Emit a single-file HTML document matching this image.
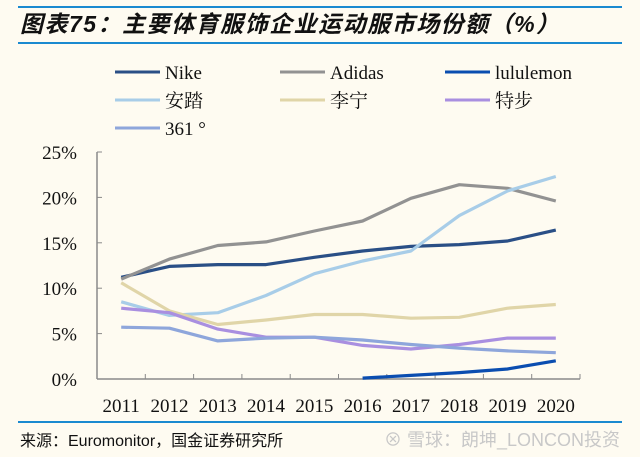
<!DOCTYPE html>
<html><head><meta charset="utf-8"><style>
body{margin:0;width:640px;height:457px;background:#fefbf1;overflow:hidden}
svg{display:block}
text{font-family:"Liberation Serif","Noto Serif CJK SC",serif}
</style></head><body>
<svg width="640" height="457">
<rect x="0" y="0" width="640" height="457" fill="#fefbf1"/>
<line x1="18" y1="7" x2="622" y2="7" stroke="#1a8ad0" stroke-width="2"/>
<text x="20" y="32" font-size="23" font-weight="bold" font-style="italic" fill="#111" letter-spacing="1.5" style="font-family:'Liberation Sans','Noto Sans CJK SC',sans-serif">图表75：主要体育服饰企业运动服市场份额（%）</text>
<line x1="18" y1="43" x2="622" y2="43" stroke="#1a8ad0" stroke-width="2"/>
<g id="legend"></g>
<g id="axes"></g>
<g id="series"></g>
<line x1="18" y1="422" x2="622" y2="422" stroke="#1a8ad0" stroke-width="2"/>
<text x="20" y="446" font-size="16" fill="#111" style="font-family:'Liberation Sans','Noto Sans CJK SC',sans-serif">来源：Euromonitor，国金证券研究所</text>
<text x="384" y="446" font-size="18" fill="#c8c8c8" style="font-family:'Liberation Sans','Noto Sans CJK SC',sans-serif">⊗ 雪球：朗坤_LONCON投资</text>
</svg>
<script>
const years=["2011","2012","2013","2014","2015","2016","2017","2018","2019","2020"];
const yTicks=[0,5,10,15,20,25];
const names=["Nike","Adidas","lululemon","安踏","李宁","特步","361 °"];
const colors=["#2a4f86","#929292","#0a4db0","#a8cde8","#e0d5a8","#a98fe0","#8ea6db"];
const nike=[11.2,12.4,12.6,12.6,13.4,14.1,14.6,14.8,15.2,16.4];
const adidas=[11.0,13.2,14.7,15.1,16.3,17.4,19.9,21.4,21.0,19.6];
const lulu=[null,null,null,null,null,0.1,0.4,0.7,1.1,2.0];
const anta=[8.5,7.0,7.3,9.2,11.6,13.0,14.1,18.0,20.7,22.3];
const lining=[10.6,7.5,6.0,6.5,7.1,7.1,6.7,6.8,7.8,8.2];
const xtep=[7.8,7.3,5.5,4.6,4.6,3.7,3.3,3.8,4.5,4.5];
const s361=[5.7,5.6,4.2,4.5,4.6,4.3,3.8,3.4,3.1,2.9];
const seriesData=[nike,adidas,lulu,anta,lining,xtep,s361];
const NS="http://www.w3.org/2000/svg";
const X0=97,X1=580,Y0=379,Y1=152;
const bw=(X1-X0)/years.length;
const xs=i=>X0+bw*(i+0.5);
const ys=v=>Y0-(v/25)*(Y0-Y1);
function mk(t,a,p){const e=document.createElementNS(NS,t);for(const k in a)e.setAttribute(k,a[k]);p.appendChild(e);return e;}
const ax=document.getElementById('axes');
let l=mk('line',{x1:X0,y1:Y1,x2:X0,y2:Y0,stroke:'#8a8a8a','stroke-width':1.5},ax);


l=mk('line',{x1:X0,y1:Y0,x2:X1,y2:Y0,stroke:'#8a8a8a','stroke-width':1.5},ax);


yTicks.forEach(v=>{
 mk('line',{x1:X0,y1:ys(v),x2:X0+5,y2:ys(v),stroke:'#8a8a8a'},ax);
 const t=mk('text',{x:77,y:ys(v)+7,'font-size':19,'text-anchor':'end',fill:'#111'},ax);
 t.textContent=v+'%';
 
 
});
years.forEach((y,i)=>{
 const xt=X0+bw*(i+1);
 mk('line',{x1:xt,y1:Y0,x2:xt,y2:Y0-5,stroke:'#8a8a8a'},ax);
 const t=mk('text',{x:xs(i),y:412,'font-size':19,'text-anchor':'middle',fill:'#111'},ax);
 t.textContent=y;
 
 
});
const sg=document.getElementById('series');
seriesData.forEach((d,k)=>{
 let p='';d.forEach((v,i)=>{if(v==null)return;p+=(p?'L':'M')+xs(i).toFixed(1)+','+ys(v).toFixed(1);});
 const e=mk('path',{d:p,fill:'none',stroke:colors[k],'stroke-width':3.2,'stroke-linejoin':'round'},sg);
 
 
});
const lg=document.getElementById('legend');
names.forEach((n,k)=>{
 const c=k%3,r=Math.floor(k/3);
 const x=115+c*165,y=72+r*28;
 mk('line',{x1:x,y1:y,x2:x+45,y2:y,stroke:colors[k],'stroke-width':3},lg);
 const t=mk('text',{x:x+50,y:y+7,'font-size':19,fill:'#111'},lg);
 t.textContent=n;
 
 
});
</script>
</body></html>
